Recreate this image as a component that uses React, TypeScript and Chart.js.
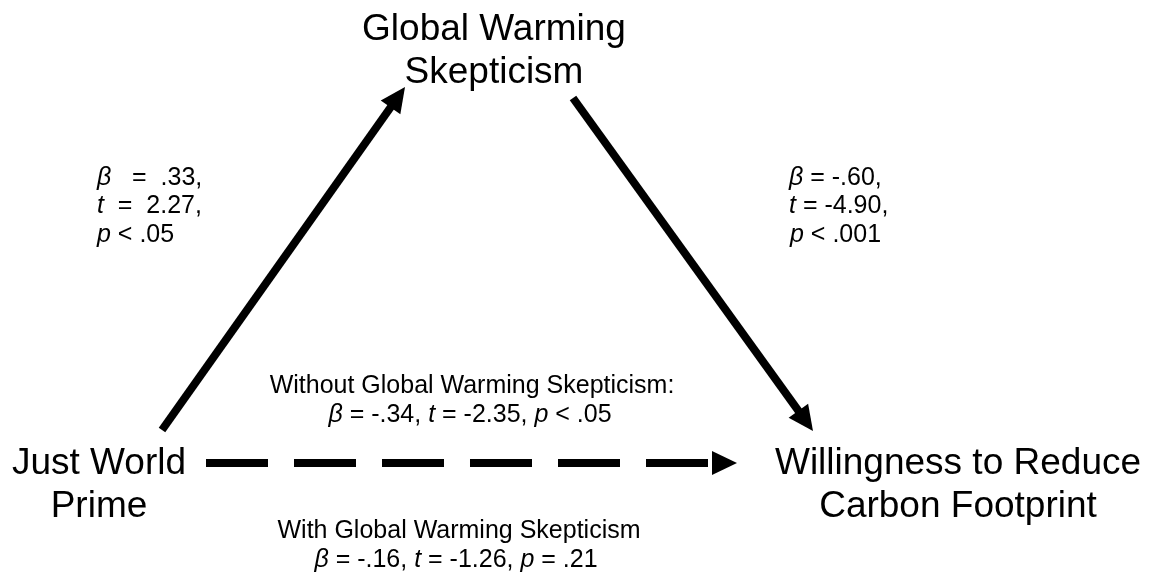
import React, { useEffect, useRef } from "react";
import { Chart, registerables } from "chart.js";

Chart.register(...registerables);

// ---- diagram data ----
const predictorLabel = ["Just World", "Prime"];
const mediatorLabel = ["Global Warming", "Skepticism"];
const outcomeLabel = ["Willingness to Reduce", "Carbon Footprint"];
const directHeaders = ["Without Global Warming Skepticism:", "With Global Warming Skepticism"];
// paths: a (predictor -> mediator), b (mediator -> outcome), c (total), c' (direct)
const betaValues = [0.33, -0.6, -0.34, -0.16];
const tValues = [2.27, -4.9, -2.35, -1.26];
const pLabels = ["< .05", "< .001", "< .05", "= .21"];

// ---- layout (diagram space: 0..1152 x 0..575) ----
const W = 1152;
const H = 575;
const arrowA = { from: [162, 430], to: [405, 87] };
const arrowB = { from: [573, 98], to: [813, 431] };
const arrowC = { from: [206, 463], to: [737, 463] };
const HEAD_LEN = 25;
const HEAD_HALF = 12;
const BIG = 37;
const SMALL = 25;
const FONT = "'Liberation Sans', Arial, Helvetica, sans-serif";

type Run = { t: string; i?: boolean };

const fmt = (v: number) => v.toFixed(2).replace(/^(-?)0\./, "$1.");

function lineEnd(a: { from: number[]; to: number[] }) {
  const dx = a.to[0] - a.from[0];
  const dy = a.to[1] - a.from[1];
  const len = Math.hypot(dx, dy);
  const k = (len - HEAD_LEN + 2) / len;
  return { x: a.from[0] + dx * k, y: a.from[1] + dy * k };
}

function drawRuns(ctx: CanvasRenderingContext2D, runs: Run[], x: number, y: number, size: number, align: "left" | "center") {
  const fonts = runs.map((r) => `${r.i ? "italic " : ""}${size}px ${FONT}`);
  const widths = runs.map((r, k) => {
    ctx.font = fonts[k];
    return ctx.measureText(r.t).width;
  });
  const total = widths.reduce((s, w) => s + w, 0);
  let cx = align === "center" ? x - total / 2 : x;
  ctx.textAlign = "left";
  ctx.textBaseline = "alphabetic";
  runs.forEach((r, k) => {
    ctx.font = fonts[k];
    ctx.fillText(r.t, cx, y);
    cx += widths[k];
  });
}

const diagramPlugin = {
  id: "diagram",
  afterDatasetsDraw(chart: any) {
    const ctx: CanvasRenderingContext2D = chart.ctx;
    const xs = chart.scales.x;
    const ys = chart.scales.y;
    const px = (v: number) => xs.getPixelForValue(v);
    const py = (v: number) => ys.getPixelForValue(v);
    ctx.save();
    ctx.fillStyle = "#000";
    // arrow heads
    [arrowA, arrowB, arrowC].forEach((a) => {
      const tx = px(a.to[0]);
      const ty = py(a.to[1]);
      const fx = px(a.from[0]);
      const fy = py(a.from[1]);
      const len = Math.hypot(tx - fx, ty - fy);
      const ux = (tx - fx) / len;
      const uy = (ty - fy) / len;
      const bx = tx - ux * HEAD_LEN;
      const by = ty - uy * HEAD_LEN;
      ctx.beginPath();
      ctx.moveTo(tx, ty);
      ctx.lineTo(bx - uy * HEAD_HALF, by + ux * HEAD_HALF);
      ctx.lineTo(bx + uy * HEAD_HALF, by - ux * HEAD_HALF);
      ctx.closePath();
      ctx.fill();
    });

    // node labels
    drawRuns(ctx, [{ t: mediatorLabel[0] }], px(494), py(40), BIG, "center");
    drawRuns(ctx, [{ t: mediatorLabel[1] }], px(494), py(83), BIG, "center");
    drawRuns(ctx, [{ t: predictorLabel[0] }], px(99), py(474), BIG, "center");
    drawRuns(ctx, [{ t: predictorLabel[1] }], px(99), py(517), BIG, "center");
    drawRuns(ctx, [{ t: outcomeLabel[0] }], px(958), py(474), BIG, "center");
    drawRuns(ctx, [{ t: outcomeLabel[1] }], px(958), py(517), BIG, "center");

    // path a
    drawRuns(ctx, [{ t: "β", i: true }, { t: `   =  ${fmt(betaValues[0])},` }], px(97), py(185), SMALL, "left");
    drawRuns(ctx, [{ t: "t", i: true }, { t: `  =  ${fmt(tValues[0])},` }], px(97), py(213), SMALL, "left");
    drawRuns(ctx, [{ t: "p", i: true }, { t: ` ${pLabels[0]}` }], px(97), py(242), SMALL, "left");

    // path b
    drawRuns(ctx, [{ t: "β", i: true }, { t: ` = ${fmt(betaValues[1])},` }], px(789), py(185), SMALL, "left");
    drawRuns(ctx, [{ t: "t", i: true }, { t: ` = ${fmt(tValues[1])},` }], px(789), py(213), SMALL, "left");
    drawRuns(ctx, [{ t: "p", i: true }, { t: ` ${pLabels[1]}` }], px(790), py(242), SMALL, "left");

    // paths c and c'
    const stats = (k: number): Run[] => [
      { t: "β", i: true },
      { t: ` = ${fmt(betaValues[k])}, ` },
      { t: "t", i: true },
      { t: ` = ${fmt(tValues[k])}, ` },
      { t: "p", i: true },
      { t: ` ${pLabels[k]}` },
    ];
    drawRuns(ctx, [{ t: directHeaders[0] }], px(472), py(393), SMALL, "center");
    drawRuns(ctx, stats(2), px(470), py(422), SMALL, "center");
    drawRuns(ctx, [{ t: directHeaders[1] }], px(459), py(538), SMALL, "center");
    drawRuns(ctx, stats(3), px(456), py(567), SMALL, "center");
    ctx.restore();
  },
};

export default function App() {
  const ref = useRef<HTMLCanvasElement | null>(null);
  useEffect(() => {
    if (!ref.current) return;
    const endA = lineEnd(arrowA);
    const endB = lineEnd(arrowB);
    const endC = { x: arrowC.to[0] - HEAD_LEN - 3, y: arrowC.to[1] };
    const base = {
      showLine: true,
      pointRadius: 0,
      borderColor: "#000",
      borderWidth: 8,
      borderCapStyle: "butt" as const,
      fill: false,
    };
    const chart = new Chart(ref.current, {
      type: "scatter",
      data: {
        datasets: [
          { ...base, label: "a", data: [{ x: arrowA.from[0], y: arrowA.from[1] }, endA] },
          { ...base, label: "b", data: [{ x: arrowB.from[0], y: arrowB.from[1] }, endB] },
          { ...base, label: "c'", borderDash: [62, 26], data: [{ x: arrowC.from[0], y: arrowC.from[1] }, endC] },
        ],
      },
      options: {
        responsive: false,
        animation: false,
        events: [],
        layout: { padding: 0 },
        plugins: { legend: { display: false }, tooltip: { enabled: false } },
        scales: {
          x: { type: "linear", min: 0, max: W, display: false },
          y: { type: "linear", min: 0, max: H, reverse: true, display: false },
        },
      },
      plugins: [diagramPlugin],
    });
    return () => chart.destroy();
  }, []);
  return (
    <div style={{ position: "absolute", left: 0, top: 0, width: W, height: H, background: "#fff" }}>
      <canvas ref={ref} width={W} height={H} />
    </div>
  );
}
